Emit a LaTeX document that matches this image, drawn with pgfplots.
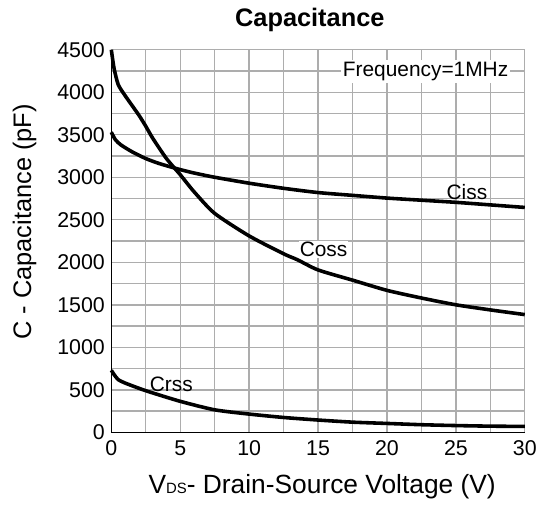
\documentclass[border=0pt]{standalone}
\usepackage{pgfplots}
\pgfplotsset{compat=1.18}
\usepackage{fontspec}
\setmainfont{Liberation Sans}
\begin{document}
\begin{tikzpicture}
\begin{axis}[
  name=ax,
  scale only axis,
  width=416pt, height=385pt,
  xmin=0, xmax=30, ymin=0, ymax=4500,
  xtick={0,2.5,5,7.5,10,12.5,15,17.5,20,22.5,25,27.5,30},
  xticklabels={0,,5,,10,,15,,20,,25,,30},
  ytick={0,250,500,750,1000,1250,1500,1750,2000,2250,2500,2750,3000,3250,3500,3750,4000,4250,4500},
  yticklabels={0,,500,,1000,,1500,,2000,,2500,,3000,,3500,,4000,,4500},
  grid=major,
  major grid style={draw=black!32, line width=1.4pt},
  axis x line=bottom, axis y line=left,
  axis line style={-, black, line width=1.2pt},
  major tick length=0pt,
  tick label style={font=\fontsize{21.5}{25}\selectfont},
  xticklabel style={yshift=-5pt},
  yticklabel style={xshift=-3pt},
  title={\textbf{Capacitance}},
  title style={font=\fontsize{25.5}{30}\selectfont, at={(axis description cs:0.48,1.062)}, anchor=center},
  xlabel={V{\fontsize{15}{17}\selectfont DS}- Drain-Source Voltage (V)},
  xlabel style={font=\fontsize{26.5}{30}\selectfont, at={(axis description cs:0.51,-0.143)}, anchor=center},
  ylabel={C - Capacitance (pF)},
  ylabel style={font=\fontsize{25.5}{30}\selectfont, at={(axis description cs:-0.21,0.55)}, anchor=center},
  clip=false,
]
\addplot[black, line width=3.6pt, smooth, tension=0.4] coordinates {
(0,3530) (0.3,3440) (0.7,3380) (1.5,3300) (2.5,3220) (3.5,3160) (5,3090) (6,3050) (7.5,3000) (10,2930) (12.5,2870) (15,2820) (17.5,2787) (20,2755) (22.5,2730) (25,2705) (27.5,2675) (30,2645)};
\addplot[black, line width=3.6pt, smooth, tension=0.4] coordinates {
(0,4500) (0.2,4280) (0.5,4090) (1,3960) (2,3730) (2.5,3600) (3,3460) (4,3220) (5,3030) (6,2830) (7.5,2575) (10,2310) (12.5,2100) (13.5,2030) (15,1910) (17.5,1790) (20,1670) (22.5,1580) (25,1500) (27.5,1440) (30,1385)};
\addplot[black, line width=3.6pt, smooth, tension=0.4] coordinates {
(0,730) (0.2,680) (0.5,620) (1,580) (2.5,490) (5,365) (7.5,265) (10,215) (12.5,175) (15,145) (17.5,120) (20,105) (22.5,90) (25,80) (27.5,73) (30,70)};
\node[fill=white, inner sep=2pt, font=\fontsize{21}{24}\selectfont] at (axis cs:22.8,4243) {Frequency=1MHz};
\node[inner sep=1pt, font=\fontsize{21}{24}\selectfont] at (axis cs:25.8,2825) {Ciss};
\node[fill=white, inner sep=1pt, font=\fontsize{21}{24}\selectfont] at (axis cs:15.4,2150) {Coss};
\node[inner sep=1pt, font=\fontsize{21}{24}\selectfont] at (axis cs:4.35,567) {Crss};
\end{axis}
\path (ax.south west) ++(-112pt,-78pt) rectangle ++(540pt,513pt);
\end{tikzpicture}
\end{document}
